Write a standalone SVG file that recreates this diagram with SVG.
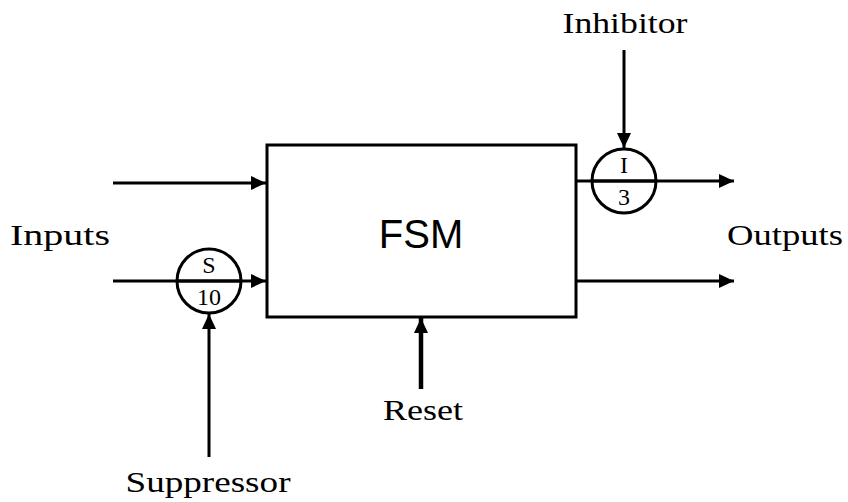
<svg xmlns="http://www.w3.org/2000/svg" width="848" height="502" viewBox="0 0 848 502">
<style>
.ln{stroke:#000;stroke-width:3;fill:none}
.lbl{font-family:"Liberation Serif","Times New Roman",serif;font-size:29px;fill:#000;text-anchor:middle}
.sm{font-family:"Liberation Serif","Times New Roman",serif;font-size:24px;fill:#000;text-anchor:middle}
</style>
<defs>
<marker id="ah" markerUnits="userSpaceOnUse" markerWidth="16" markerHeight="16" refX="15" refY="8" orient="auto" viewBox="0 0 16 16">
<path d="M0,1 L15,8 L0,15 Z" fill="#000"/>
</marker>
</defs>
<rect width="848" height="502" fill="#fff"/>
<g id="fsm">
<rect x="267" y="145" width="309" height="172" fill="#fff" stroke="#000" stroke-width="3"/>
<text x="421" y="248" font-family="'Liberation Sans',Arial,sans-serif" font-size="40" text-anchor="middle">FSM</text>
</g>
<g id="connectors">
<line class="ln" x1="113" y1="183" x2="266" y2="183" marker-end="url(#ah)"/>
<line class="ln" x1="113" y1="281" x2="266" y2="281" marker-end="url(#ah)"/>
<line class="ln" x1="576" y1="181" x2="734" y2="181" marker-end="url(#ah)"/>
<line class="ln" x1="576" y1="281" x2="734" y2="281" marker-end="url(#ah)"/>
<line class="ln" x1="624" y1="50" x2="624" y2="148" marker-end="url(#ah)"/>
<line class="ln" x1="209" y1="457" x2="209" y2="314" marker-end="url(#ah)"/>
<line stroke="#000" stroke-width="4.5" x1="421" y1="389" x2="421" y2="318" marker-end="url(#ah)"/>
</g>
<g id="suppressor-node">
<circle cx="209" cy="281" r="32" class="ln"/>
<line class="ln" x1="177" y1="281" x2="241" y2="281"/>
<text class="sm" x="209" y="273">S</text>
<text class="sm" x="209" y="305">10</text>
</g>
<g id="inhibitor-node">
<circle cx="624" cy="181" r="32" class="ln"/>
<line class="ln" x1="592" y1="181" x2="656" y2="181"/>
<text class="sm" x="624" y="173">I</text>
<text class="sm" x="624" y="205">3</text>
</g>
<g id="labels">
<text class="lbl" x="625" y="33" textLength="125" lengthAdjust="spacingAndGlyphs">Inhibitor</text>
<text class="lbl" x="60" y="245" textLength="100" lengthAdjust="spacingAndGlyphs">Inputs</text>
<text class="lbl" x="785" y="245" textLength="116" lengthAdjust="spacingAndGlyphs">Outputs</text>
<text class="lbl" x="423" y="420" textLength="80" lengthAdjust="spacingAndGlyphs">Reset</text>
<text class="lbl" x="208" y="492" textLength="165" lengthAdjust="spacingAndGlyphs">Suppressor</text>
</g>
</svg>
